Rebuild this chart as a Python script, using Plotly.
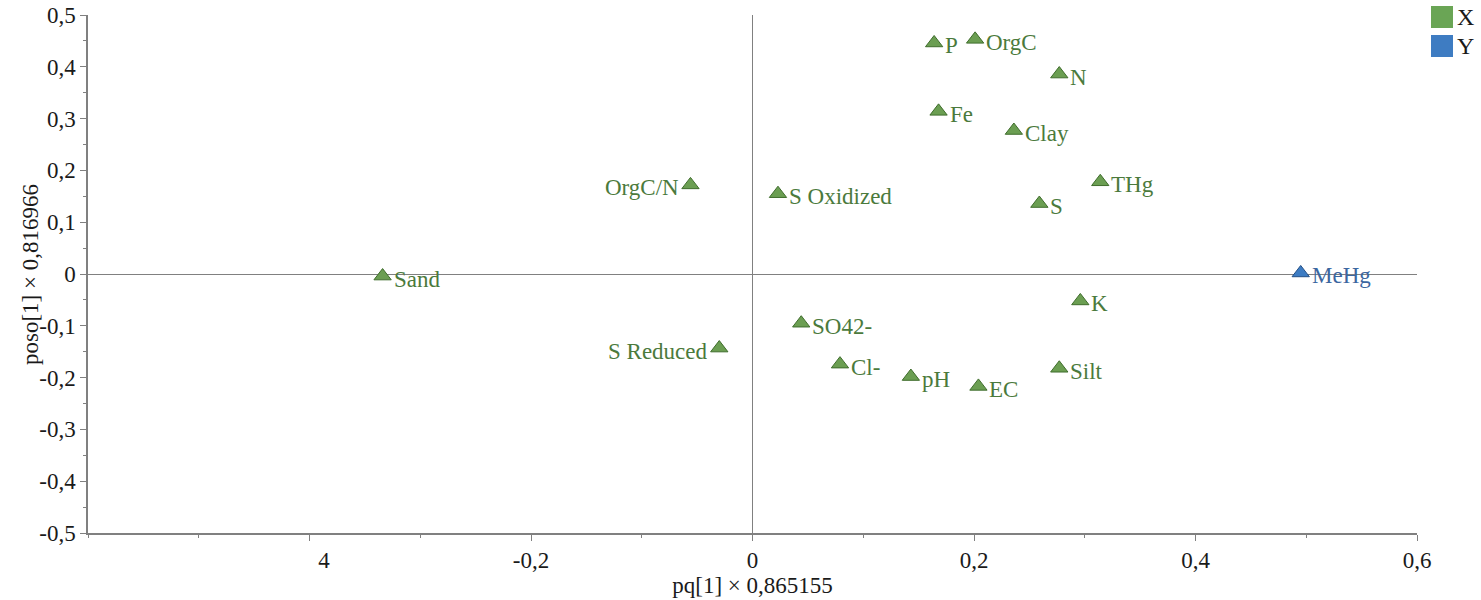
import plotly.graph_objects as go

# Loadings of the X block (predictors)
x_labels = ["P", "OrgC", "N", "Fe", "Clay", "THg", "S", "OrgC/N", "S Oxidized",
            "Sand", "K", "SO42-", "S Reduced", "Cl-", "pH", "EC", "Silt"]
x_pq = [0.164, 0.201, 0.277, 0.168, 0.236, 0.314, 0.259, -0.056, 0.023,
        -0.334, 0.296, 0.044, -0.030, 0.079, 0.143, 0.204, 0.277]
x_poso = [0.446, 0.453, 0.386, 0.314, 0.277, 0.178, 0.136, 0.172, 0.155,
          -0.004, -0.052, -0.095, -0.143, -0.174, -0.198, -0.217, -0.182]
x_label_side = ["right"] * 7 + ["left", "right", "right", "right", "right", "left"] + ["right"] * 4

# Loadings of the Y block (response)
y_labels = ["MeHg"]
y_pq = [0.495]
y_poso = [0.002]
y_label_side = ["right"]

# Axis ticks
xtick_vals = [-0.4, -0.2, 0, 0.2, 0.4, 0.6]
xtick_text = ["\u00a0\u00a0\u00a0\u00a0\u00a04", "-0,2", "0", "0,2", "0,4", "0,6"]
ytick_vals = [0.5, 0.4, 0.3, 0.2, 0.1, 0, -0.1, -0.2, -0.3, -0.4, -0.5]
ytick_text = ["0,5", "0,4", "0,3", "0,2", "0,1", "0", "-0,1", "-0,2", "-0,3", "-0,4", "-0,5"]

# Block legend entries
legend_names = ["X", "Y"]

GREEN = "#6b9e52"
GREEN_EDGE = "#3f6d2c"
GREEN_TEXT = "#4b7a3c"
BLUE = "#3d7cc3"
BLUE_EDGE = "#234f86"
BLUE_TEXT = "#3b66a0"
LEG_COLORS = ["#6aa555", "#3e7cc2"]
FONT = "Liberation Serif, Tinos, Times New Roman, DejaVu Serif, serif"
INK = "#1a1a1a"

fig = go.Figure()
fig.add_trace(go.Scatter(
    x=x_pq, y=x_poso, mode="markers", name="X", showlegend=False,
    marker=dict(symbol="triangle-up", size=15, color=GREEN,
                line=dict(color=GREEN_EDGE, width=1)),
))
fig.add_trace(go.Scatter(
    x=y_pq, y=y_poso, mode="markers", name="Y", showlegend=False,
    marker=dict(symbol="triangle-up", size=15, color=BLUE,
                line=dict(color=BLUE_EDGE, width=1)),
))

# Variable names next to each loading, sitting slightly below the marker
for labels, xs, ys, sides, col in [(x_labels, x_pq, x_poso, x_label_side, GREEN_TEXT),
                                   (y_labels, y_pq, y_poso, y_label_side, BLUE_TEXT)]:
    for lab, xv, yv, side in zip(labels, xs, ys, sides):
        fig.add_annotation(
            x=xv, y=yv, text=lab, showarrow=False,
            xanchor="left" if side == "right" else "right", yanchor="middle",
            xshift=9 if side == "right" else -9, yshift=-3,
            font=dict(family=FONT, size=23, color=col),
        )

# Legend drawn as square swatches in pixel space at the top-right corner
for i, (name, col) in enumerate(zip(legend_names, LEG_COLORS)):
    top = 6 + 29 * i
    fig.add_shape(type="rect", xref="paper", yref="paper",
                  x0=(1431 - 88) / 1329, x1=(1453 - 88) / 1329,
                  y0=(533 - top - 22) / 518, y1=(533 - top) / 518,
                  fillcolor=col, line=dict(width=0), layer="above")
    fig.add_annotation(xref="paper", yref="paper",
                       x=(1455 - 88) / 1329, y=(533 - top - 11) / 518,
                       xanchor="left", yanchor="middle", showarrow=False,
                       text=name, font=dict(family=FONT, size=24, color=INK))

# Vertical axis title, placed close to the tick labels
fig.add_annotation(xref="paper", yref="paper", x=(30 - 88) / 1329, y=0.5,
                   xanchor="center", yanchor="middle", showarrow=False,
                   textangle=-90, text="poso[1] × 0,816966",
                   font=dict(family=FONT, size=23, color=INK))

axis_common = dict(
    showgrid=False, zeroline=True, zerolinecolor="#808080", zerolinewidth=1,
    showline=True, linecolor="#808080", linewidth=1.5,
    ticks="outside", tickcolor="#808080", ticklen=6, tickwidth=1,
    tickfont=dict(family=FONT, size=23, color=INK),
    title_font=dict(family=FONT, size=23, color=INK),
    minor=dict(ticks="outside", ticklen=3, tickcolor="#808080", showgrid=False),
)

fig.update_xaxes(
    range=[-0.6, 0.6], tickvals=xtick_vals, ticktext=xtick_text,
    title_text="pq[1] × 0,865155", title_standoff=4,
    minor_dtick=0.1, minor_tick0=0, **axis_common,
)
fig.update_yaxes(
    range=[-0.5, 0.5], tickvals=ytick_vals, ticktext=ytick_text,
    minor_dtick=0.05, minor_tick0=0, **axis_common,
)

fig.update_layout(
    width=1481, height=600,
    margin=dict(l=88, r=64, t=15, b=67, autoexpand=False),
    paper_bgcolor="white", plot_bgcolor="white",
    font=dict(family=FONT, size=23, color=INK),
    showlegend=False,
)

fig.write_html("out.html")
